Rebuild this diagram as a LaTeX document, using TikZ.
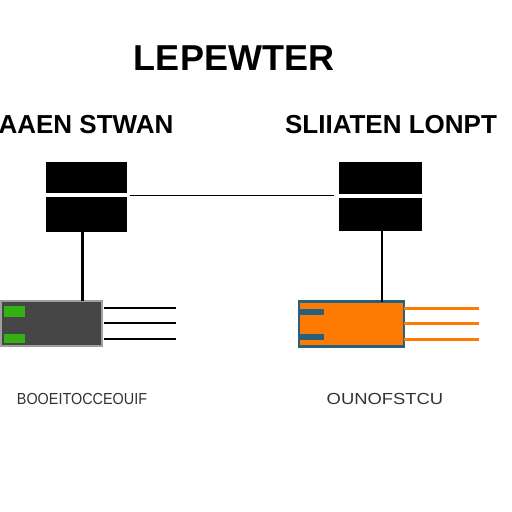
\documentclass[tikz,border=0pt]{standalone}
\usepackage{fontspec}
\setmainfont{Liberation Sans}
\usetikzlibrary{positioning}
\definecolor{ledgreen}{RGB}{52,178,20}
\definecolor{modgray}{RGB}{70,70,70}
\definecolor{modorange}{RGB}{255,122,0}
\definecolor{modteal}{RGB}{38,98,128}
\tikzset{
  title/.style={font=\fontsize{36}{36}\selectfont\bfseries, inner sep=0pt},
  head/.style={font=\fontsize{26}{26}\selectfont\bfseries, inner sep=0pt},
  foot/.style={font=\fontsize{16}{16}\selectfont, text=black!80, inner sep=0pt},
  swbox/.style={fill=black, minimum width=81pt, minimum height=31pt, inner sep=0pt, outer sep=0pt},
  module/.style={minimum width=101pt, minimum height=45pt, inner sep=0pt, outer sep=0pt},
  led/.style={fill=ledgreen, minimum width=21pt, minimum height=11pt, inner sep=0pt},
  tab/.style={fill=modteal, minimum width=24pt, minimum height=6pt, inner sep=0pt},
  wire/.style={line width=1.3pt},
  owire/.style={modorange, line width=3pt}
}
\begin{document}
\begin{tikzpicture}[x=1pt, y=-1pt]
  \fill[white] (0,0) rectangle (512,512);
  \useasboundingbox (0,0) rectangle (512,512);

  % headings
  \node[title] (ttl) at (234,58.5) {LEPEWTER};
  \node[head] (hl) at (86,125) {AAEN STWAN};
  \node[head] (hr) at (391,125) {SLIIATEN LONPT};

  % switches
  \node[swbox] (swL1) at (86,177.5) {};
  \node[swbox, minimum height=35pt] (swL2) at (86,214.5) {};
  \node[swbox, minimum width=83pt, minimum height=32pt] (swR1) at (380.5,178) {};
  \node[swbox, minimum width=83pt, minimum height=33pt] (swR2) at (380.5,214.5) {};
  \draw[wire] ([xshift=3pt,yshift=-2.5pt]swL1.south east) -- ([xshift=-5pt,yshift=-1.5pt]swR1.south west);

  % modules
  \node[module, fill=modgray, draw=gray!75, line width=1.5pt] (modL) at (51.5,323.5) {};
  \node[led] (ledL1) at (14.5,311.5) {};
  \node[led, minimum height=9pt] (ledL2) at (14.5,338.5) {};
  \node[module, minimum width=105pt, fill=modorange, draw=modteal, line width=2.5pt] (modR) at (351.5,324) {};
  \node[tab] (tabR1) at (312,311.5) {};
  \node[tab] (tabR2) at (312,336.5) {};

  \draw[line width=3pt] ([xshift=-4pt]swL2.south) -- ([xshift=-4pt]swL2.south |- modL.north);
  \draw[line width=2pt] ([xshift=1.5pt]swR2.south) -- ([xshift=1.5pt]swR2.south |- modR.north);

  % cables
  \foreach \i/\yy in {1/308,2/323,3/339}{
    \coordinate (cl\i) at (176,\yy);
    \draw[wire] (modL.east |- cl\i) ++(2,0) -- (cl\i);
    \coordinate (cr\i) at (479,\yy);
    \draw[owire] (modR.east |- cr\i) -- (cr\i);
  }

  % captions
  \node[foot] (fl) at (82,398.5) {\scalebox{0.9}[1]{BOOEITOCCEOUIF}};
  \node[foot] (fr) at (385,398.5) {\scalebox{1.15}[1]{OUNOFSTCU}};
\end{tikzpicture}
\end{document}
